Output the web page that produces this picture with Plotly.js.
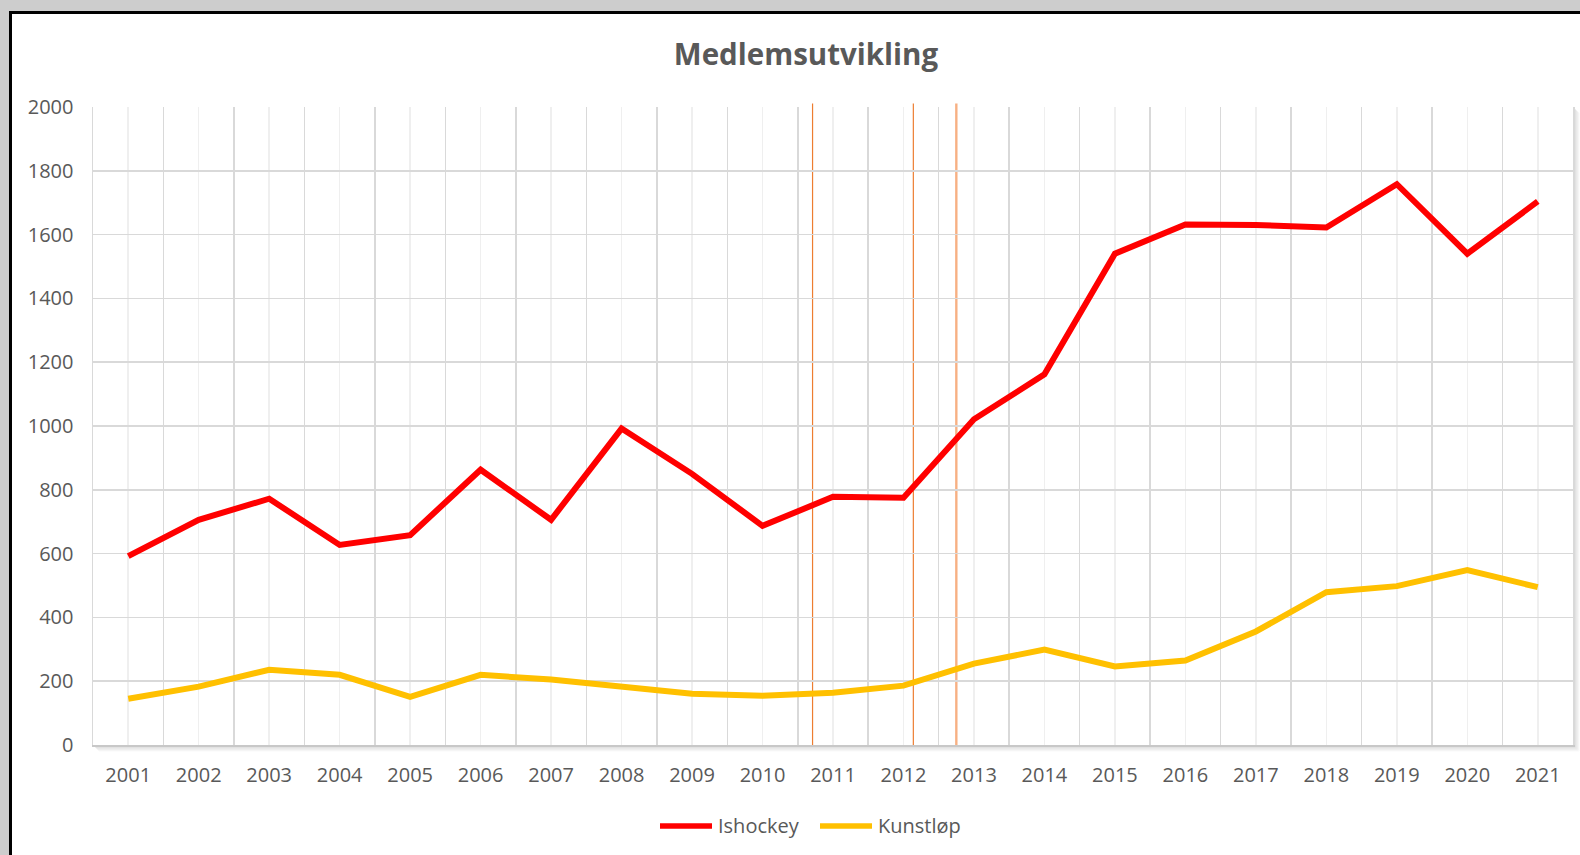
<!DOCTYPE html>
<html>
<head>
<meta charset="utf-8">
<script src="https://cdn.plot.ly/plotly-3.0.1.min.js"></script>
<style>
  html, body { margin: 0; padding: 0; background: #cdcdcd; }
  #chart { width: 1580px; height: 855px; }
</style>
</head>
<body>
<div id="chart"></div>
<script>
const years = [2001, 2002, 2003, 2004, 2005, 2006, 2007, 2008, 2009, 2010, 2011,
               2012, 2013, 2014, 2015, 2016, 2017, 2018, 2019, 2020, 2021];
const yearLabels = years.map(String);
const ishockey = [592, 706, 772, 627, 658, 863, 706, 992, 850, 687, 778,
                  775, 1021, 1162, 1540, 1632, 1630, 1622, 1758, 1540, 1704];
const kunstlop = [145, 183, 236, 220, 151, 220, 205, 183, 161, 154, 164,
                  186, 255, 299, 246, 265, 356, 479, 498, 548, 495];
const seriesNames = ['Ishockey', 'Kunstløp'];
const seriesColors = ['#ff0000', '#ffc000'];
const markerLinesX = [2010.71, 2012.14, 2012.75];
const yTicks = [0, 200, 400, 600, 800, 1000, 1200, 1400, 1600, 1800, 2000];

// layout helpers (pixel -> paper coords)
const W = 1580, H = 855;
const L = 93, R = 7, T = 107, B = 110;
const PW = W - L - R, PH = H - T - B;
const px = v => (v - L) / PW;
const py = v => (H - B - v) / PH;

const boundaries = years.map(y => y - 0.5).concat([years[years.length - 1] + 0.5]);

const shapes = [];
// white chart box with black border
shapes.push({type: 'rect', xref: 'paper', yref: 'paper', layer: 'below',
  x0: px(10.5), x1: px(1640), y0: py(900), y1: py(12.5),
  fillcolor: '#ffffff', line: {color: '#000000', width: 3}});
// soft shadow of plot area (bottom and right)
for (let i = 1; i <= 6; i++) {
  const op = 0.30 * (1 - (i - 1) / 6);
  shapes.push({type: 'line', xref: 'paper', yref: 'paper', layer: 'below',
    x0: px(L + i), x1: px(W - R + i), y0: py(H - B + i), y1: py(H - B + i),
    line: {color: 'rgba(120,120,120,' + op.toFixed(3) + ')', width: 1}});
  shapes.push({type: 'line', xref: 'paper', yref: 'paper', layer: 'below',
    x0: px(W - R + i), x1: px(W - R + i), y0: py(T + i), y1: py(H - B + i),
    line: {color: 'rgba(120,120,120,' + op.toFixed(3) + ')', width: 1}});
}
// orange vertical marker lines
const markerStyles = [
  {color: '#ed7d31', width: 1.2},
  {color: '#ed7d31', width: 1.2},
  {color: 'rgba(244,150,90,0.75)', width: 2.4}
];
markerLinesX.forEach((xv, i) => {
  shapes.push({type: 'line', xref: 'x', yref: 'paper', layer: 'below',
    x0: xv, x1: xv, y0: 0, y1: py(103.5), line: markerStyles[i]});
});

// custom legend (longer line samples, as in the original)
const legendFont = {family: '"Open Sans", "Noto Sans", sans-serif', size: 20, color: '#595959'};
const legendPos = [{lx0: 660, lx1: 712, tx: 716}, {lx0: 820, lx1: 872, tx: 876}];
const legendY = 826;
const annotations = [];
seriesNames.forEach((name, i) => {
  const p = legendPos[i];
  shapes.push({type: 'line', xref: 'paper', yref: 'paper', layer: 'above',
    x0: px(p.lx0), x1: px(p.lx1), y0: py(legendY), y1: py(legendY),
    line: {color: seriesColors[i], width: 5.5}});
  annotations.push({text: name, xref: 'paper', yref: 'paper',
    x: px(p.tx), y: py(legendY - 1), xanchor: 'left', yanchor: 'middle',
    showarrow: false, font: legendFont});
});

const traces = [
  {x: years, y: ishockey, name: seriesNames[0], type: 'scatter', mode: 'lines',
   line: {color: seriesColors[0], width: 6}},
  {x: years, y: kunstlop, name: seriesNames[1], type: 'scatter', mode: 'lines',
   line: {color: seriesColors[1], width: 6}}
];

const tickFont = {family: '"Open Sans", "Noto Sans", sans-serif', size: 20, color: '#595959'};

const layout = {
  width: W, height: H, autosize: false,
  margin: {l: L, r: R, t: T, b: B, pad: 0},
  paper_bgcolor: '#cdcdcd',
  plot_bgcolor: '#ffffff',
  showlegend: false,
  title: {
    text: '<b>Medlemsutvikling</b>',
    font: {family: '"Open Sans", "Noto Sans", sans-serif', size: 29.5, color: '#595959'},
    xref: 'container', yref: 'container',
    x: 806 / W, xanchor: 'center',
    y: 1 - 55 / H, yanchor: 'middle'
  },
  xaxis: {
    type: 'linear',
    range: [years[0] - 0.5, years[years.length - 1] + 0.5],
    tickmode: 'array', tickvals: years, ticktext: yearLabels,
    ticks: '', tickfont: tickFont, ticklabelstandoff: 11,
    showgrid: true, gridcolor: '#efefef', gridwidth: 1.5,
    minor: {tickmode: 'array', tickvals: boundaries, showgrid: true,
            gridcolor: '#d9d9d9', gridwidth: 1.5, ticks: ''},
    showline: true, linecolor: '#c8c8c8', linewidth: 1.5, mirror: false,
    zeroline: false, fixedrange: true
  },
  yaxis: {
    range: [0, 2000],
    tickmode: 'array', tickvals: yTicks, ticktext: yTicks.map(String),
    ticks: '', tickfont: tickFont, ticklabelstandoff: 14,
    showgrid: true, gridcolor: '#d9d9d9', gridwidth: 1.5,
    showline: true, linecolor: '#d9d9d9', linewidth: 1.5, mirror: true,
    zeroline: false, fixedrange: true
  },
  shapes: shapes,
  annotations: annotations
};

Plotly.newPlot('chart', traces, layout, {displayModeBar: false, staticPlot: true});
</script>
</body>
</html>
